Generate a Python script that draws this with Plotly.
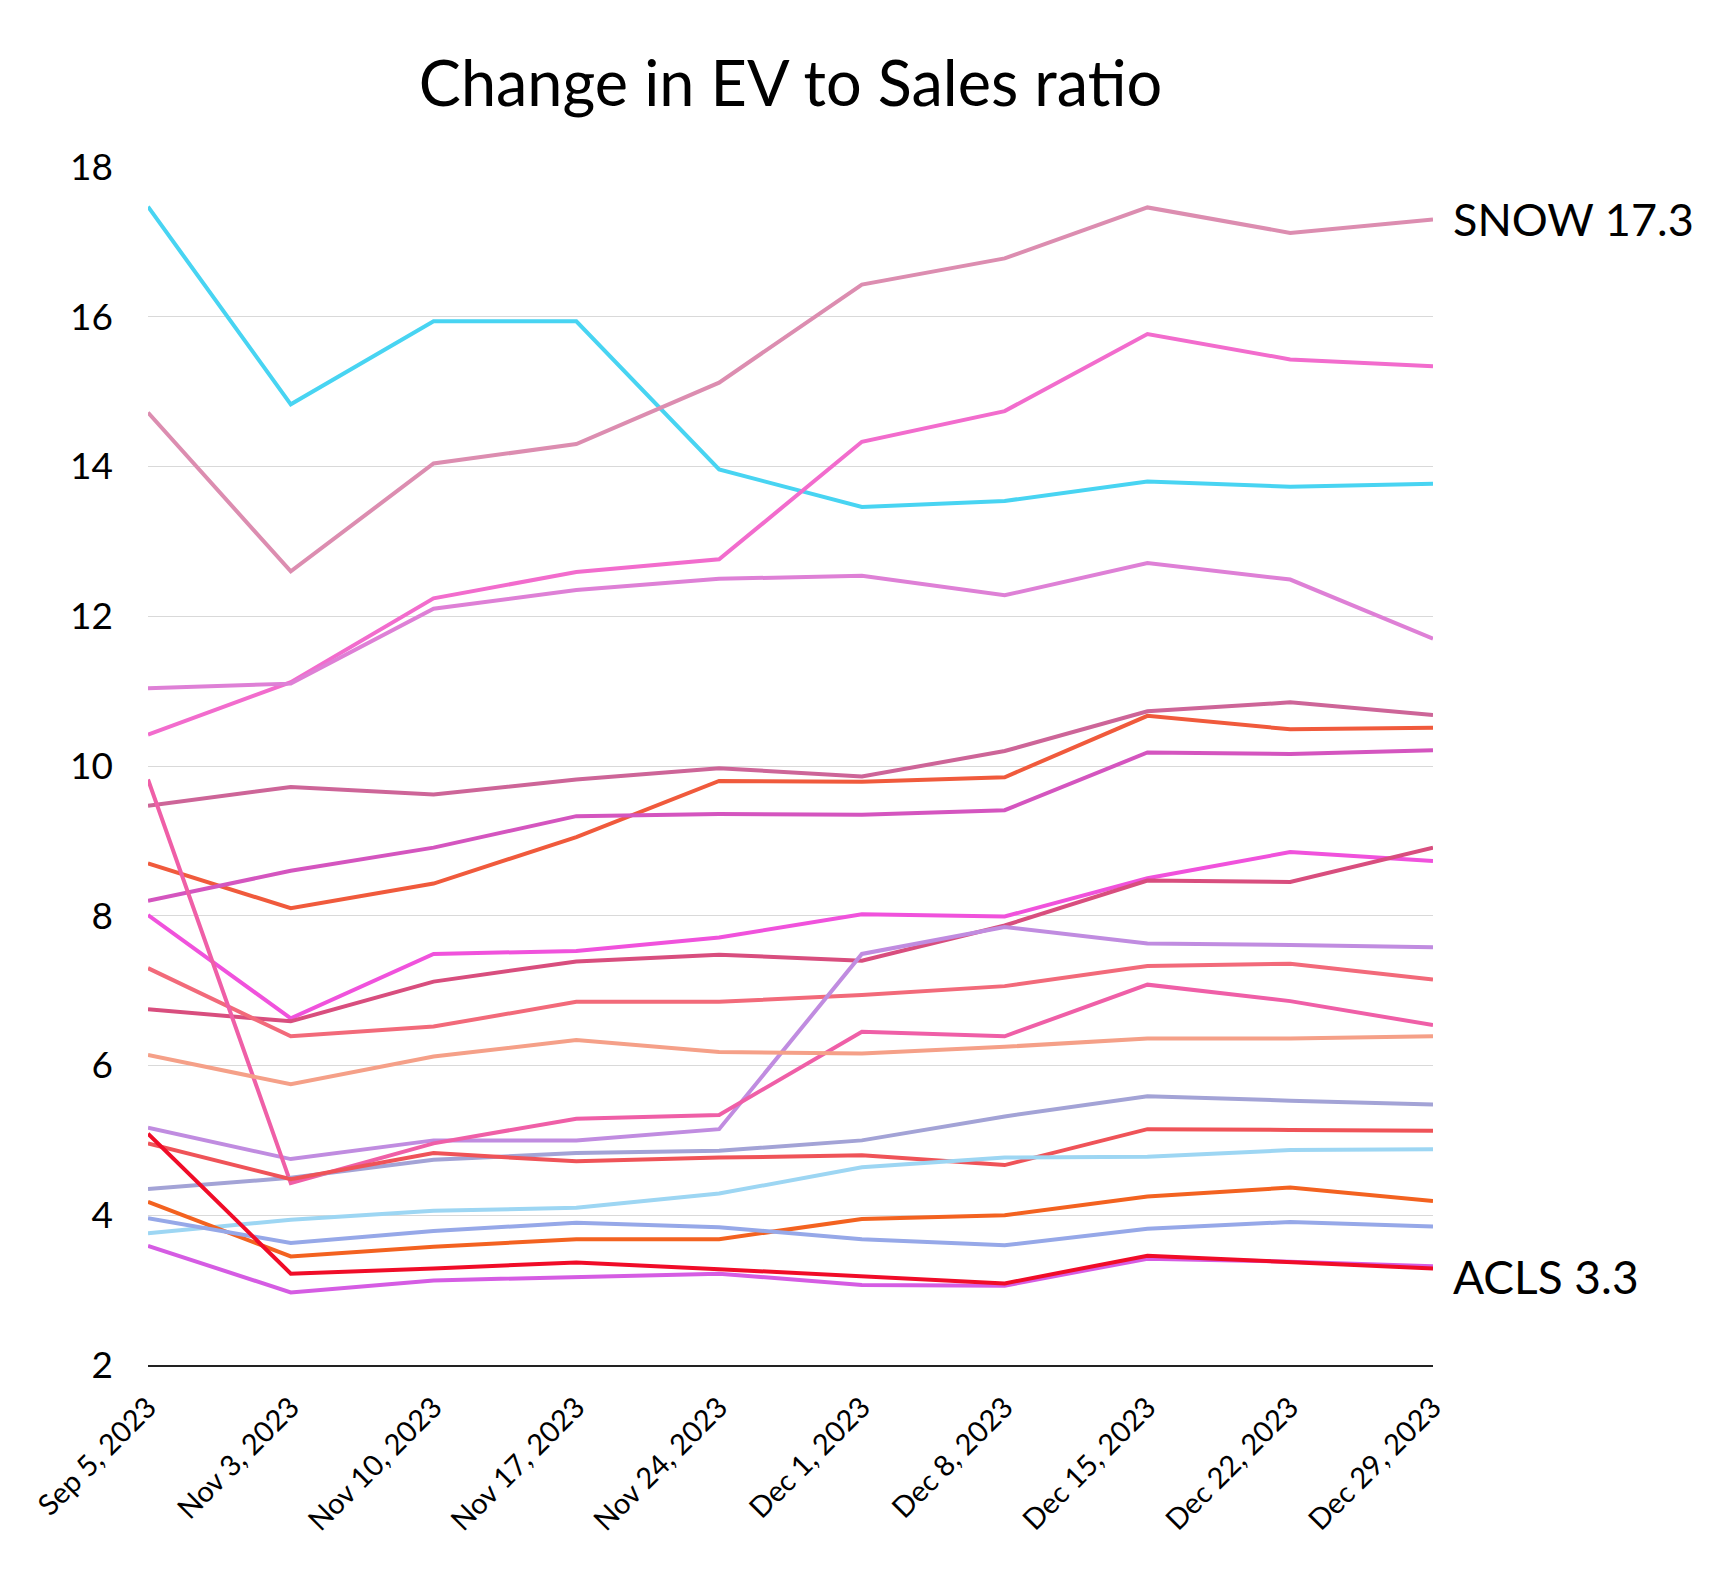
import plotly.graph_objects as go

dates = ["Sep 5, 2023", "Nov 3, 2023", "Nov 10, 2023", "Nov 17, 2023", "Nov 24, 2023",
         "Dec 1, 2023", "Dec 8, 2023", "Dec 15, 2023", "Dec 22, 2023", "Dec 29, 2023"]

snow = [14.72, 12.60, 14.04, 14.30, 15.12, 16.43, 16.78, 17.46, 17.12, 17.30]
cyan_s = [17.47, 14.83, 15.94, 15.94, 13.96, 13.46, 13.54, 13.80, 13.73, 13.77]
hotpink_s = [10.42, 11.12, 12.24, 12.59, 12.76, 14.33, 14.74, 15.77, 15.43, 15.34]
orchid_s = [11.04, 11.10, 12.10, 12.35, 12.50, 12.54, 12.28, 12.71, 12.49, 11.70]
mauve_s = [9.47, 9.72, 9.62, 9.82, 9.97, 9.86, 10.20, 10.73, 10.85, 10.68]
orangered_s = [8.70, 8.10, 8.43, 9.05, 9.80, 9.79, 9.85, 10.67, 10.49, 10.51]
magpurple_s = [8.20, 8.60, 8.91, 9.33, 9.36, 9.35, 9.41, 10.18, 10.16, 10.21]
droppink_s = [9.82, 4.43, 4.96, 5.29, 5.34, 6.45, 6.39, 7.08, 6.86, 6.54]
brightmag_s = [8.01, 6.63, 7.49, 7.53, 7.71, 8.02, 7.99, 8.50, 8.85, 8.73]
deeprose_s = [6.75, 6.59, 7.12, 7.39, 7.48, 7.40, 7.87, 8.47, 8.45, 8.91]
coral_s = [7.30, 6.39, 6.52, 6.85, 6.85, 6.94, 7.06, 7.33, 7.36, 7.15]
lavender_s = [5.17, 4.75, 5.00, 5.00, 5.15, 7.49, 7.85, 7.63, 7.61, 7.58]
salmon_s = [6.14, 5.75, 6.12, 6.34, 6.18, 6.16, 6.25, 6.36, 6.36, 6.39]
greylav_s = [4.35, 4.50, 4.74, 4.83, 4.86, 5.00, 5.32, 5.59, 5.53, 5.48]
redcoral_s = [4.96, 4.48, 4.83, 4.72, 4.77, 4.80, 4.67, 5.15, 5.14, 5.13]
skyblue_s = [3.76, 3.94, 4.06, 4.10, 4.29, 4.64, 4.77, 4.78, 4.87, 4.88]
orange_s = [4.18, 3.45, 3.58, 3.68, 3.68, 3.95, 4.00, 4.25, 4.37, 4.19]
periwinkle_s = [3.96, 3.63, 3.79, 3.90, 3.84, 3.68, 3.60, 3.82, 3.91, 3.85]
violet_s = [3.59, 2.97, 3.13, 3.18, 3.22, 3.07, 3.06, 3.42, 3.38, 3.32]
acls = [5.09, 3.22, 3.29, 3.37, 3.28, 3.19, 3.09, 3.46, 3.38, 3.29]

series = [
    (cyan_s, "#48d4f2"),
    (hotpink_s, "#f26ccd"),
    (orchid_s, "#de80d6"),
    (snow, "#dc8db0"),
    (mauve_s, "#cd6598"),
    (orangered_s, "#f05a3c"),
    (magpurple_s, "#d455bf"),
    (brightmag_s, "#f052dc"),
    (deeprose_s, "#d84e7e"),
    (coral_s, "#f26a7a"),
    (lavender_s, "#c08ce0"),
    (droppink_s, "#ef5fa7"),
    (salmon_s, "#f5a088"),
    (greylav_s, "#a3a3d6"),
    (redcoral_s, "#ef5358"),
    (skyblue_s, "#9dd6f3"),
    (orange_s, "#f36220"),
    (periwinkle_s, "#96a8e8"),
    (violet_s, "#d55ce3"),
    (acls, "#f00c28"),
]

FONT = "Lato"

fig = go.Figure()
for vals, col in series:
    fig.add_trace(go.Scatter(x=dates, y=vals, mode="lines",
                             line=dict(color=col, width=4), showlegend=False,
                             hoverinfo="skip"))

fig.add_annotation(x=dates[-1], y=snow[-1], text=f"SNOW {snow[-1]:.1f}",
                   xanchor="left", yanchor="middle", xshift=18, showarrow=False,
                   font=dict(family=FONT, size=45, color="black"))
fig.add_annotation(x=dates[-1], y=acls[-1], text=f"ACLS {acls[-1]:.1f}",
                   xanchor="left", yanchor="middle", xshift=18, yshift=-8, showarrow=False,
                   font=dict(family=FONT, size=46, color="black"))

fig.update_layout(
    width=1720, height=1592,
    paper_bgcolor="white", plot_bgcolor="white",
    margin=dict(l=148, r=287, t=167, b=227),
    font=dict(family=FONT, color="black"),
    title=dict(text="Change in EV to Sales ratio", x=0.5, xref="paper",
               y=1 - 84 / 1592, yref="container", yanchor="middle", xanchor="center",
               font=dict(family=FONT, size=63, color="black")),
    xaxis=dict(type="category", range=[0, 9], showgrid=False, tickangle=-45,
               showline=True, linecolor="#222", linewidth=1.5, ticks="",
               tickfont=dict(family=FONT, size=29, color="black"),
               ticklabelstandoff=12, zeroline=False),
    yaxis=dict(range=[2, 18], tickvals=[2, 4, 6, 8, 10, 12, 14, 16, 18],
               showgrid=True, gridcolor="#d9d9d9", gridwidth=1, zeroline=False,
               showline=False, ticks="",
               tickfont=dict(family=FONT, size=37, color="black"),
               ticklabelstandoff=34),
)

fig.write_html("out.html")
